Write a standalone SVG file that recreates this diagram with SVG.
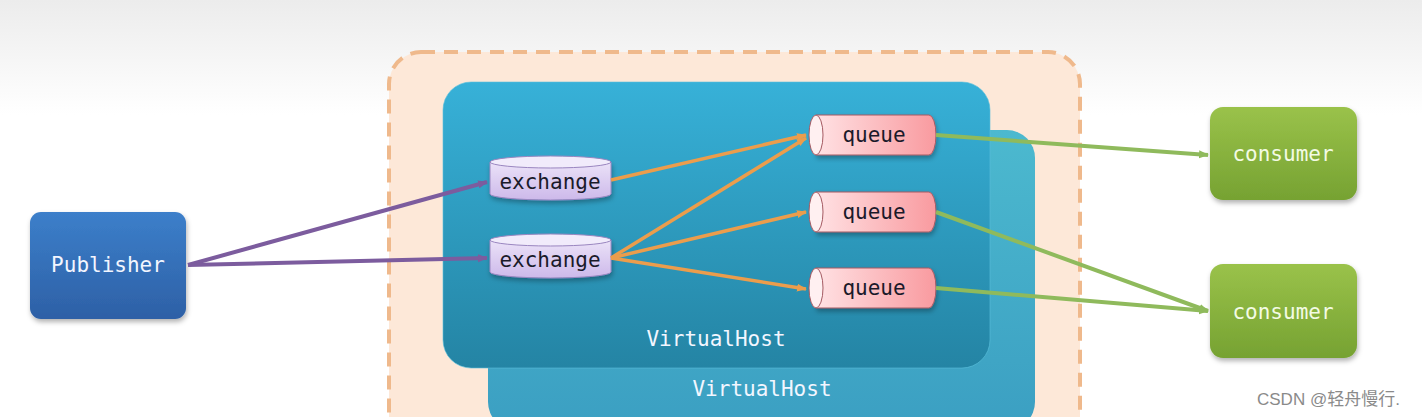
<svg xmlns="http://www.w3.org/2000/svg" width="1422" height="417" viewBox="0 0 1422 417">
<defs>
<linearGradient id="bg" x1="0" y1="0" x2="0" y2="1"><stop offset="0" stop-color="#ececec"/><stop offset="1" stop-color="#ffffff"/></linearGradient>
<linearGradient id="vh1" x1="0" y1="0" x2="0" y2="1"><stop offset="0" stop-color="#37b1d8"/><stop offset="1" stop-color="#2484a4"/></linearGradient>
<linearGradient id="vh2" x1="0" y1="0" x2="0" y2="1"><stop offset="0" stop-color="#4cb9cf"/><stop offset="1" stop-color="#3b9fc2"/></linearGradient>
<linearGradient id="pub" x1="0" y1="0" x2="0" y2="1"><stop offset="0" stop-color="#3c7fca"/><stop offset="1" stop-color="#2d60a6"/></linearGradient>
<linearGradient id="con" x1="0" y1="0" x2="0" y2="1"><stop offset="0" stop-color="#9ac24a"/><stop offset="1" stop-color="#76a232"/></linearGradient>
<linearGradient id="ex" x1="0" y1="0" x2="0" y2="1"><stop offset="0" stop-color="#ebe2f8"/><stop offset="1" stop-color="#cdb9ea"/></linearGradient>
<linearGradient id="qu" x1="0" y1="0" x2="1" y2="0"><stop offset="0" stop-color="#ffe2e4"/><stop offset="1" stop-color="#f99a9f"/></linearGradient>
<filter id="sh" x="-10%" y="-10%" width="130%" height="130%"><feDropShadow dx="1" dy="3" stdDeviation="2.5" flood-color="#000" flood-opacity="0.3"/></filter>
<marker id="ap" markerWidth="10" markerHeight="10" refX="9" refY="5" orient="auto" markerUnits="userSpaceOnUse"><path d="M0,1 L10,5 L0,9 z" fill="#7c5c9e"/></marker>
<marker id="ao" markerWidth="10" markerHeight="10" refX="9" refY="5" orient="auto" markerUnits="userSpaceOnUse"><path d="M0,1 L10,5 L0,9 z" fill="#eb9d4c"/></marker>
<marker id="ag" markerWidth="10" markerHeight="10" refX="9" refY="5" orient="auto" markerUnits="userSpaceOnUse"><path d="M0,1 L10,5 L0,9 z" fill="#8fba5c"/></marker>
</defs>
<style>
.lbl{font-family:"DejaVu Sans Mono","Liberation Mono",monospace;font-size:21px;text-anchor:middle;dominant-baseline:central}
.w{fill:#f2f6ff}
.d{fill:#1a1a2a}
.p{stroke:#7c5c9e;stroke-width:4;fill:none;marker-end:url(#ap)}
.o{stroke:#eb9d4c;stroke-width:3.5;fill:none;marker-end:url(#ao)}
.g{stroke:#8fba5c;stroke-width:4;fill:none;marker-end:url(#ag)}
</style>
<rect width="1422" height="417" fill="#ffffff"/>
<rect width="1422" height="115" fill="url(#bg)"/>
<g id="broker">
<rect x="389" y="52" width="691" height="400" rx="32" fill="#fde8d8" stroke="#efb98c" stroke-width="4" stroke-dasharray="14,9"/>
</g>
<g id="vhost2">
<rect x="488" y="130" width="547" height="300" rx="28" fill="url(#vh2)"/>
<text class="lbl w" x="762" y="389">VirtualHost</text>
</g>
<g id="vhost1">
<rect x="443" y="82" width="547" height="286" rx="28" fill="url(#vh1)" stroke="#5ac0dc" stroke-width="1" stroke-opacity="0.6"/>
<text class="lbl w" x="716" y="339">VirtualHost</text>
</g>
<g id="publisher">
<rect x="30" y="212" width="156" height="107" rx="11" fill="url(#pub)" filter="url(#sh)"/>
<text class="lbl w" x="108" y="265">Publisher</text>
</g>
<g id="exchange1">
<path d="M490,162 L490,194 A60.5,6 0 0 0 611,194 L611,162 Z" fill="url(#ex)" stroke="#9a86c0" stroke-width="1" filter="url(#sh)"/>
<ellipse cx="550.5" cy="162" rx="60.5" ry="6" fill="#f1ebfb" stroke="#9a86c0" stroke-width="1"/>
<text class="lbl d" x="550" y="182">exchange</text>
</g>
<g id="exchange2">
<path d="M490,240 L490,272 A60.5,6 0 0 0 611,272 L611,240 Z" fill="url(#ex)" stroke="#9a86c0" stroke-width="1" filter="url(#sh)"/>
<ellipse cx="550.5" cy="240" rx="60.5" ry="6" fill="#f1ebfb" stroke="#9a86c0" stroke-width="1"/>
<text class="lbl d" x="550" y="260">exchange</text>
</g>
<g id="queue1">
<path d="M816,115 L929,115 A7,20 0 0 1 929,155 L816,155 Z" fill="url(#qu)" stroke="#a55a62" stroke-width="1" filter="url(#sh)"/>
<ellipse cx="816" cy="135" rx="7" ry="20" fill="#fff0f1" stroke="#a55a62" stroke-width="1"/>
<text class="lbl d" x="874" y="135">queue</text>
</g>
<g id="queue2">
<path d="M816,192 L929,192 A7,20 0 0 1 929,232 L816,232 Z" fill="url(#qu)" stroke="#a55a62" stroke-width="1" filter="url(#sh)"/>
<ellipse cx="816" cy="212" rx="7" ry="20" fill="#fff0f1" stroke="#a55a62" stroke-width="1"/>
<text class="lbl d" x="874" y="212">queue</text>
</g>
<g id="queue3">
<path d="M816,268 L929,268 A7,20 0 0 1 929,308 L816,308 Z" fill="url(#qu)" stroke="#a55a62" stroke-width="1" filter="url(#sh)"/>
<ellipse cx="816" cy="288" rx="7" ry="20" fill="#fff0f1" stroke="#a55a62" stroke-width="1"/>
<text class="lbl d" x="874" y="288">queue</text>
</g>
<g id="consumer1">
<rect x="1210" y="107" width="147" height="93" rx="13" fill="url(#con)" filter="url(#sh)"/>
<text class="lbl" x="1283" y="154" fill="#f3fbe4">consumer</text>
</g>
<g id="consumer2">
<rect x="1210" y="264" width="147" height="94" rx="13" fill="url(#con)" filter="url(#sh)"/>
<text class="lbl" x="1283" y="312" fill="#f3fbe4">consumer</text>
</g>
<g id="connectors">
<line class="p" x1="188" y1="265" x2="487" y2="182"/>
<line class="p" x1="188" y1="265" x2="487" y2="258"/>
<line class="o" x1="611" y1="180" x2="806" y2="135"/>
<line class="o" x1="611" y1="258" x2="806" y2="138"/>
<line class="o" x1="611" y1="258" x2="806" y2="212"/>
<line class="o" x1="611" y1="258" x2="806" y2="289"/>
<line class="g" x1="936" y1="135" x2="1208" y2="155"/>
<line class="g" x1="936" y1="212" x2="1208" y2="311"/>
<line class="g" x1="936" y1="288" x2="1208" y2="311"/>
</g>
<text x="1257" y="405" font-family="'Liberation Sans','Noto Sans CJK SC',sans-serif" font-size="17" fill="#8a8a8a">CSDN @轻舟慢行.</text>
</svg>
